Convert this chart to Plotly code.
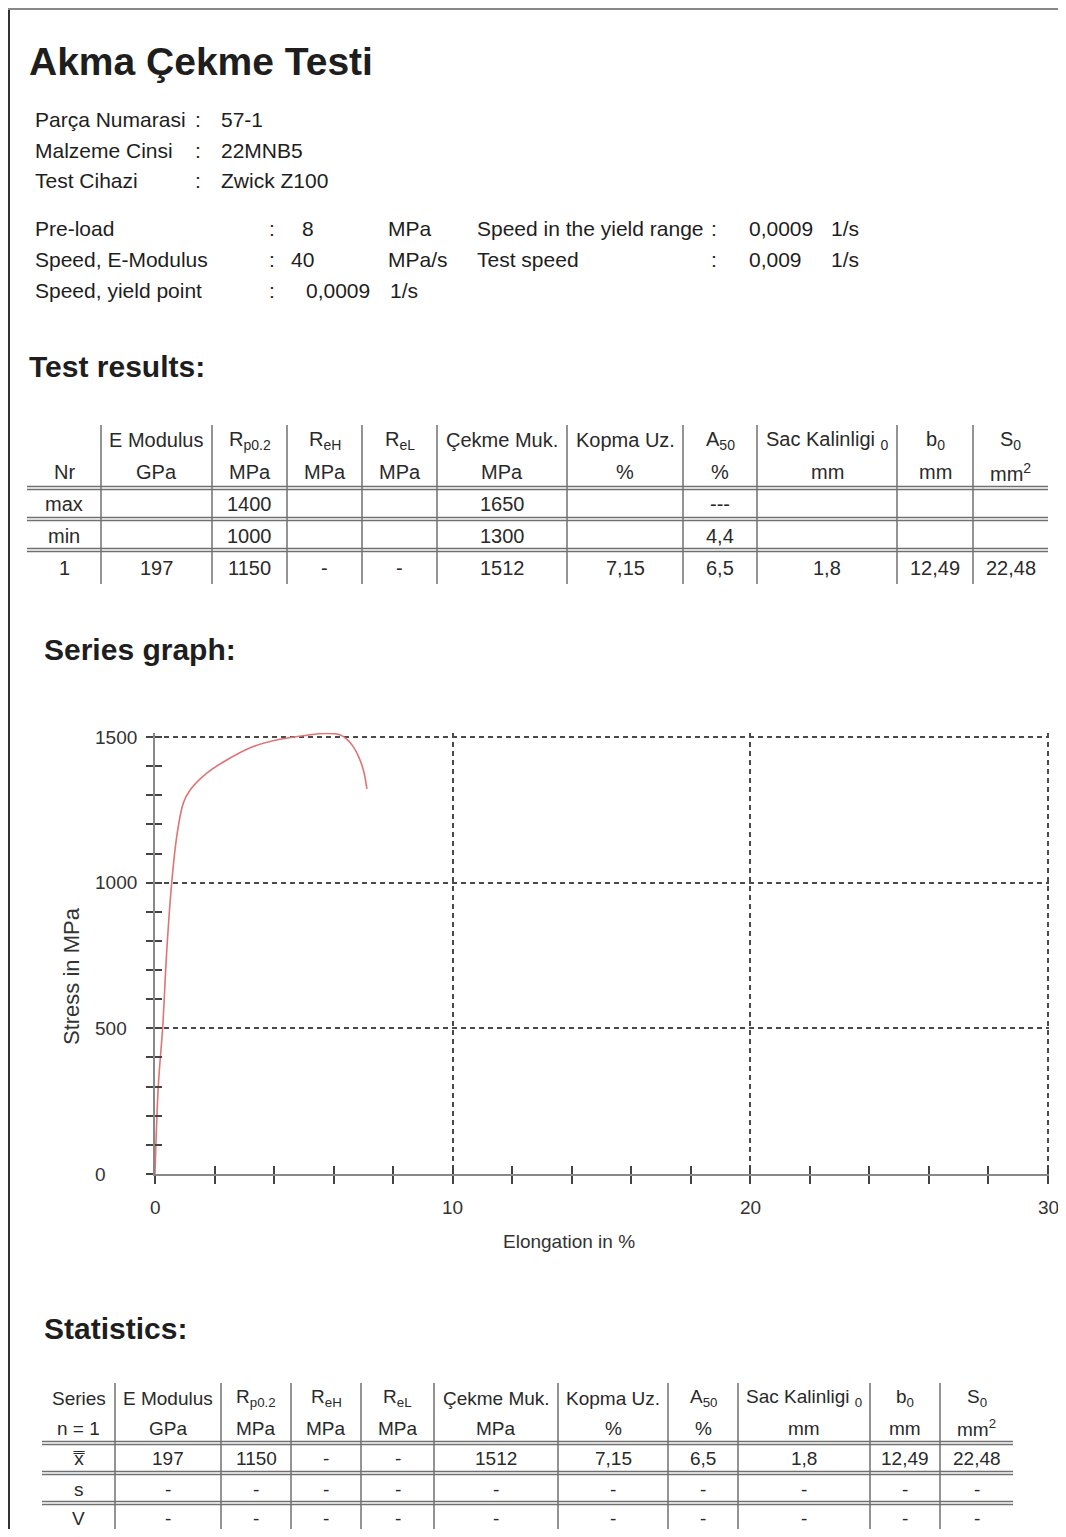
import plotly.graph_objects as go

# page is 1066x1537; the plot div sits at (8, 8) inside the body margin
OX, OY = 8, 8
W, H = 1058, 1521
FONT = "Liberation Sans, Arial, sans-serif"
INK = "#1e1e1e"
RULE = "#707070"

# ---- report data ----
title = "Akma Çekme Testi"
info_labels = ["Parça Numarasi", "Malzeme Cinsi", "Test Cihazi"]
info_values = ["57-1", "22MNB5", "Zwick Z100"]

param_labels = ["Pre-load", "Speed, E-Modulus", "Speed, yield point"]
param_values = ["8", "40", "0,0009"]
param_units = ["MPa", "MPa/s", "1/s"]
param2_labels = ["Speed in the yield range", "Test speed"]
param2_values = ["0,0009", "0,009"]
param2_units = ["1/s", "1/s"]

head1 = ["", "E Modulus", "R<sub>p0.2</sub>", "R<sub>eH</sub>", "R<sub>eL</sub>", "Çekme Muk.",
         "Kopma Uz.", "A<sub>50</sub>", "Sac Kalinligi <sub>0</sub>", "b<sub>0</sub>", "S<sub>0</sub>"]
head2 = ["Nr", "GPa", "MPa", "MPa", "MPa", "MPa", "%", "%", "mm", "mm", "mm<sup>2</sup>"]
row_max = ["max", "", "1400", "", "", "1650", "", "---", "", "", ""]
row_min = ["min", "", "1000", "", "", "1300", "", "4,4", "", "", ""]
row_1 = ["1", "197", "1150", "-", "-", "1512", "7,15", "6,5", "1,8", "12,49", "22,48"]

stat_head1 = ["Series"] + head1[1:]
stat_head2 = ["n = 1"] + head2[1:]
stat_mean = ["x\u033f", "197", "1150", "-", "-", "1512", "7,15", "6,5", "1,8", "12,49", "22,48"]
stat_s = ["s"] + ["-"] * 10
stat_v = ["V"] + ["-"] * 10

# stress-strain curve
strain = [0, 0.11, 0.26, 0.39, 0.56, 0.73, 0.95, 1.18, 1.74, 2.41, 3.30, 4.20, 5.10, 5.70,
          6.21, 6.45, 6.66, 6.85, 7.00, 7.12]
stress = [0, 300, 506, 758, 998, 1158, 1273, 1318, 1376, 1421, 1467, 1492, 1506, 1512,
          1508, 1492, 1467, 1430, 1387, 1322]

x_major = [0, 10, 20, 30]
x_minor = list(range(0, 31, 2))
y_major = [0, 500, 1000, 1500]
y_minor = list(range(0, 1501, 100))


def px(x):
    return (x - OX) / W


def py(y):
    return 1 - (y - OY) / H


annotations = []
shapes = []


def text(x, y, s, size=21, anchor="left", bold=False, color=INK):
    if not s:
        return
    if bold:
        s = "<b>" + s + "</b>"
    annotations.append(dict(x=px(x), y=py(y), xref="paper", yref="paper", text=s,
                            showarrow=False, xanchor=anchor, yanchor="middle",
                            font=dict(family=FONT, size=size, color=color)))


def hline(x0, x1, y, color=RULE, width=1.5):
    shapes.append(dict(type="line", xref="paper", yref="paper", x0=px(x0), x1=px(x1),
                       y0=py(y), y1=py(y), line=dict(color=color, width=width)))


def vline(x, y0, y1, color=RULE, width=1.5):
    shapes.append(dict(type="line", xref="paper", yref="paper", x0=px(x), x1=px(x),
                       y0=py(y0), y1=py(y1), line=dict(color=color, width=width)))


# page frame
vline(9, OY, OY + H, color="#333", width=2)
hline(8, 1066, 9, color="#888", width=2)

# header
text(27, 62, title, size=39, bold=True)
for i, (lab, val) in enumerate(zip(info_labels, info_values)):
    y = 120 + i * 30.5
    text(33, y, lab)
    text(198, y, ":", anchor="center")
    text(219, y, val)

val_x = [316, 316, 304]
val_anchor = ["right", "right", "left"]
unit_x = [386, 386, 388]
for i, (lab, val, unit) in enumerate(zip(param_labels, param_values, param_units)):
    y = 228 + i * 31
    text(33, y, lab)
    text(272, y, ":", anchor="center")
    text(val_x[i], y, val, anchor=val_anchor[i])
    text(unit_x[i], y, unit)
for i, (lab, val, unit) in enumerate(zip(param2_labels, param2_values, param2_units)):
    y = 228 + i * 31
    text(475, y, lab)
    text(714, y, ":", anchor="center")
    text(747, y, val)
    text(829, y, unit)

text(27, 366, "Test results:", size=30, bold=True)
text(42, 650, "Series graph:", size=30, bold=True)
text(42, 1328, "Statistics:", size=30, bold=True)


def table(edges, head_y, rows, row_y, rule_y, top, bottom, size):
    centers = [(a + b) / 2 for a, b in zip(edges[:-1], edges[1:])]
    for e in edges[1:-1]:
        vline(e, top, bottom)
    for ry in rule_y:
        hline(edges[0], edges[-1], ry - 1.5)
        hline(edges[0], edges[-1], ry + 1.5)
    for line, y in zip(rows, head_y + row_y):
        for c, s in zip(centers, line):
            text(c, y, s, size=size, anchor="center", color="#2a2a2a")


table([27, 101, 212, 287, 362, 437, 567, 683, 757, 897, 973, 1048],
      [440, 472], [head1, head2, row_max, row_min, row_1], [504, 536, 568],
      [488, 519, 550], 425, 584, 20)

table([42, 115, 221, 291, 361, 434, 558, 668, 738, 870, 940, 1013],
      [1398, 1428], [stat_head1, stat_head2, stat_mean, stat_s, stat_v], [1458, 1489, 1518],
      [1443, 1473, 1503], 1383, 1540, 19)

# chart
fig = go.Figure()
fig.add_trace(go.Scatter(x=strain, y=stress, mode="lines", line=dict(color="#e07474", width=1.6),
                         line_shape="spline", showlegend=False, hoverinfo="skip", cliponaxis=False))
fig.add_trace(go.Scatter(x=[], y=[], xaxis="x2", yaxis="y2", showlegend=False))

for v in y_major:
    annotations.append(dict(x=px(93), y=v, xref="paper", yref="y", text=str(v), showarrow=False,
                            xanchor="left", yanchor="middle",
                            font=dict(family=FONT, size=19, color="#333")))
for v in x_major:
    annotations.append(dict(x=v, y=py(1207), xref="x", yref="paper", text=str(v), showarrow=False,
                            xanchor="center", yanchor="middle",
                            font=dict(family=FONT, size=19, color="#333")))
text(569, 1241, "Elongation in %", size=19, anchor="center", color="#333")
annotations.append(dict(x=px(71), y=py(976), xref="paper", yref="paper", text="Stress in MPa",
                        showarrow=False, textangle=-90, xanchor="center", yanchor="middle",
                        font=dict(family=FONT, size=22, color="#333")))

# axis box: 0 % at x=155, 30 % at x=1048; 0 MPa at y=1174, 1500 MPa at y=737
X_RANGE = [0, 30.05]
Y_RANGE = [0, 1515]
x_right = 155 + (1048 - 155) * X_RANGE[1] / 30
y_top = 1174 - (1174 - 737) * Y_RANGE[1] / 1500

grid = dict(showgrid=True, gridcolor="#4a4a4a", gridwidth=1.6, griddash="5px,4px")
tick = dict(tickwidth=1.5, tickcolor="#444")
fig.update_layout(
    width=W, height=H, margin=dict(l=0, r=0, t=0, b=0, pad=0),
    paper_bgcolor="white", plot_bgcolor="white",
    xaxis=dict(domain=[px(155), px(x_right)], range=X_RANGE, tickvals=x_major, ticks="outside",
               ticklen=8, showticklabels=False, showline=True, linecolor="#888", linewidth=2.2,
               zeroline=False, anchor="y",
               minor=dict(tickvals=x_minor, ticks="outside", ticklen=8, showgrid=False, **tick),
               **tick, **grid),
    yaxis=dict(domain=[py(1174), py(y_top)], range=Y_RANGE, tickvals=y_major, ticks="outside",
               ticklen=7, showticklabels=False, showline=True, linecolor="#888", linewidth=2.2,
               zeroline=False, anchor="x",
               minor=dict(tickvals=y_minor, ticks="outside", ticklen=7, showgrid=False, **tick),
               **tick, **grid),
    xaxis2=dict(overlaying="x", anchor="y", range=X_RANGE, tickvals=x_minor, ticks="inside",
                ticklen=8, showticklabels=False, showgrid=False, showline=False,
                zeroline=False, **tick),
    yaxis2=dict(overlaying="y", anchor="x", side="left", range=Y_RANGE, tickvals=y_minor,
                ticks="inside", ticklen=7, showticklabels=False, showgrid=False,
                showline=False, zeroline=False, **tick),
    annotations=annotations, shapes=shapes,
)

fig.write_html("out.html")
